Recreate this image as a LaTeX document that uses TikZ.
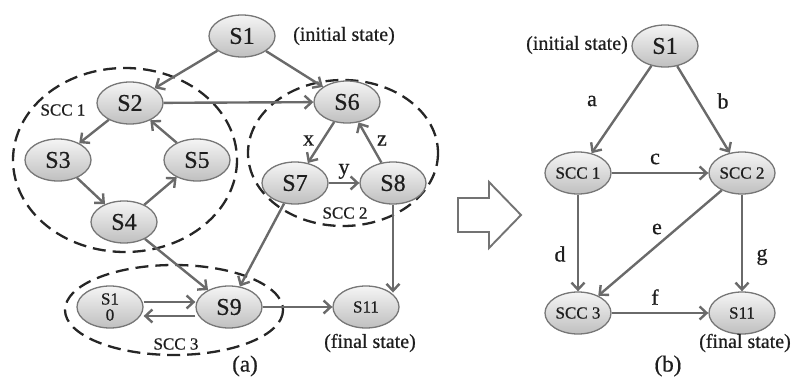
\documentclass[tikz,border=0pt]{standalone}
\usepackage{fontspec}
\setmainfont{Liberation Serif}[FakeBold=0.6]
\usetikzlibrary{arrows.meta,shapes.geometric}
\definecolor{edgegray}{HTML}{6A6A6A}
\definecolor{rimgray}{HTML}{777777}
\definecolor{inkgray}{HTML}{1E1E1E}
\begin{document}
\begin{tikzpicture}[x=1pt,y=-1pt,
  state/.style={ellipse, draw=rimgray, line width=1.3pt,
    top color=white!96!black, bottom color=black!25,
    minimum width=66pt, minimum height=42pt, inner sep=0pt,
    text=inkgray, font=\fontsize{24}{24}\selectfont},
  smallstate/.style={state, font=\fontsize{17}{17}\selectfont},
  edge/.style={draw=edgegray, line width=2.4pt,
    -{Straight Barb[length=7pt,width=13pt,line width=2.4pt]}},
  group/.style={draw=black!85, line width=2.3pt, dash pattern=on 13pt off 7pt},
  note/.style={text=inkgray, font=\fontsize{20}{20}\selectfont, inner sep=0pt},
  grouplabel/.style={text=inkgray, font=\fontsize{17}{17}\selectfont, inner sep=0pt},
  edgelabel/.style={text=inkgray, font=\fontsize{22}{22}\selectfont, inner sep=0pt},
  caption/.style={text=inkgray, font=\fontsize{23}{23}\selectfont, inner sep=0pt}]
\useasboundingbox (0,0) rectangle (793,382);

% ---------- (a) state graph ----------
% dashed outlines of the strongly connected components
\draw[group] (125,160) ellipse [x radius=112, y radius=92];
\draw[group] (343,153) ellipse [x radius=95, y radius=73];
\draw[group] (174,310) ellipse [x radius=109, y radius=45];

\node[state] (S1) at (242,36) {S1};
\node[state] (S2) at (130,103) {S2};
\node[state] (S3) at (58,160) {S3};
\node[state] (S5) at (197,160) {S5};
\node[state] (S4) at (124,222) {S4};
\node[state] (S6) at (347,102) {S6};
\node[state] (S7) at (295,183) {S7};
\node[state] (S8) at (393,183) {S8};
\node[state] (S9) at (229,307) {S9};
\node[smallstate, align=center] (S10) at (110,307) {S1\\[-1pt]0};
\node[smallstate] (S11) at (366,307) {S11};

\node[note] (initA) at (344,36) {(initial state)};
\node[note] (finalA) at (370,343) {(final state)};
\node[grouplabel] (scc1) at (63,110) {SCC 1};
\node[grouplabel] (scc2) at (345,213) {SCC 2};
\node[grouplabel] (scc3) at (176,344) {SCC 3};
\node[caption] (capA) at (245,366) {(a)};

\draw[edge] (S1) -- (S2);
\draw[edge] (S1) -- (S6);
\draw[edge] (S2) -- (S6);
\draw[edge] (S2) -- (S3);
\draw[edge] (S3) -- (S4);
\draw[edge] (S4) -- (S5);
\draw[edge] (S5) -- (S2);
\draw[edge] (S6) -- node[edgelabel, pos=0.45, left=7pt] (lx) {x} (S7);
\draw[edge] (S7) -- node[edgelabel, above=3pt] (ly) {y} (S8);
\draw[edge] (S8) -- node[edgelabel, pos=0.55, right=7pt] (lz) {z} (S6);
\draw[edge] (S4) -- (S9);
\draw[edge] (S7) -- (S9);
\draw[edge] (S8.south) -- (S8.south |- S11.30);
\draw[edge] ([yshift=5pt]S10.east) -- ([yshift=5pt]S10.east -| S9.west);
\draw[edge] ([yshift=-9pt]S9.west) -- ([yshift=-9pt]S9.west -| S10.east);
\draw[edge] (S9) -- (S11);

% ---------- transition arrow ----------
\draw[draw=black!55, line width=1.9pt, line join=miter]
  (458,198) -- (489,198) -- (489,182) -- (521,215) -- (489,248)
  -- (489,232) -- (458,232) -- cycle;

% ---------- (b) condensed graph ----------
\node[state] (T1) at (665,46) {S1};
\node[smallstate] (C1) at (578,173) {SCC 1};
\node[smallstate] (C2) at (742,173) {SCC 2};
\node[smallstate] (C3) at (578,313) {SCC 3};
\node[smallstate] (T11) at (742,313) {S11};

\node[note, anchor=east] (initB) at (628,45) {(initial state)};
\node[note, anchor=east] (finalB) at (791,343) {(final state)};
\node[caption] (capB) at (668,366) {(b)};

\draw[edge] (T1) -- (C1);
\draw[edge] (T1) -- (C2);
\draw[edge] (C1) -- (C2);
\draw[edge] (C1) -- (C3);
\draw[edge] (C2) -- (C3);
\draw[edge] (C2) -- (T11);
\draw[edge] (C3) -- (T11);

\node[edgelabel] (la) at (592,101) {a};
\node[edgelabel] (lb) at (723,101) {b};
\node[edgelabel] (lc) at (655,159) {c};
\node[edgelabel] (ld) at (560,254) {d};
\node[edgelabel] (le) at (657,229) {e};
\node[edgelabel] (lf) at (655,297) {f};
\node[edgelabel] (lg) at (762,257) {g};
\end{tikzpicture}
\end{document}
